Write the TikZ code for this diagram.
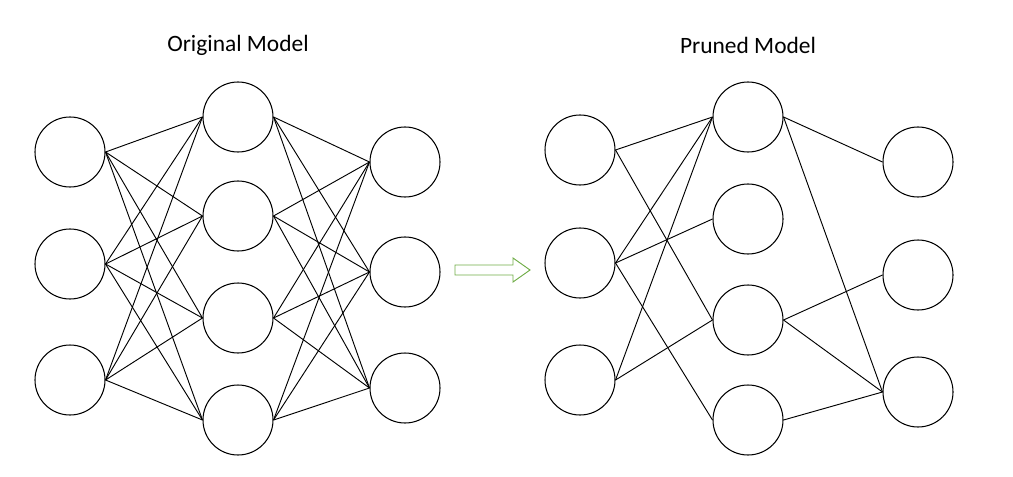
\documentclass[tikz,border=0pt]{standalone}
\usepackage{fontspec}
\setmainfont{Carlito}
\begin{document}
\begin{tikzpicture}[x=0.03cm,y=-0.03cm,
  neu/.style={circle,draw,line width=0.9pt,minimum size=2.1cm,inner sep=0pt},
  edge/.style={line width=0.8pt},
  title/.style={font=\fontsize{20}{24}\selectfont}]
\useasboundingbox (0,0) rectangle (1013,476);
\node[title] (t1) at (238,45) {Original Model};
\node[title] (t2) at (748,45) {Pruned Model};
% left
\foreach \i/\y in {1/152,2/264,3/380} \node[neu] (a\i) at (70,\y) {};
\foreach \i/\y in {1/117,2/216,3/318,4/420} \node[neu] (b\i) at (238,\y) {};
\foreach \i/\y in {1/162,2/272,3/388} \node[neu] (c\i) at (405,\y) {};
\foreach \i in {1,2,3} \foreach \j in {1,2,3,4} \draw[edge] (a\i.east) -- (b\j.west);
\foreach \j in {1,2,3,4} \foreach \k in {1,2,3} \draw[edge] (b\j.east) -- (c\k.west);
% right
\foreach \i/\y in {1/150,2/263,3/380} \node[neu] (p\i) at (580,\y) {};
\foreach \i/\y in {1/117,2/219,3/320,4/420} \node[neu] (q\i) at (748,\y) {};
\foreach \i/\y in {1/162,2/275,3/392} \node[neu] (r\i) at (918,\y) {};
\foreach \a/\b in {p1/q1,p1/q3,p2/q1,p2/q2,p2/q4,p3/q1,p3/q3}
  \draw[edge] (\a.east) -- (\b.west);
\foreach \a/\b in {q1/r1,q1/r3,q3/r2,q3/r3,q4/r3}
  \draw[edge] (\a.east) -- (\b.west);
% arrow
\coordinate (arr) at (455,270);
\draw[draw={rgb,255:red,112;green,173;blue,71},line width=0.8pt,fill=white]
  (arr) ++(0,-5) -- ++(58,0) -- ++(0,-7) -- ++(17,12) -- ++(-17,12) -- ++(0,-7) -- ++(-58,0) -- cycle;
\end{tikzpicture}
\end{document}
